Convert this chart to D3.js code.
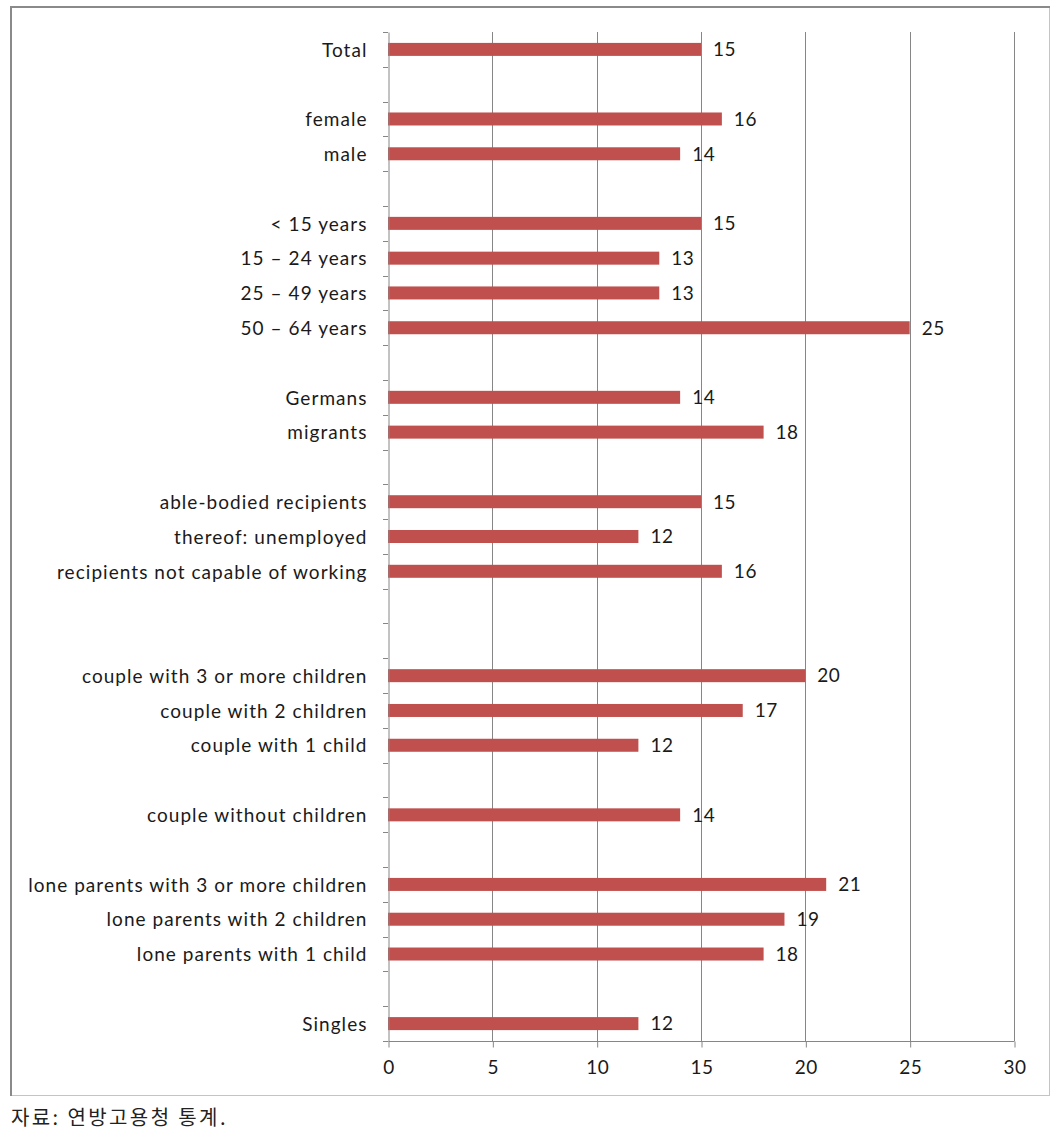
<!DOCTYPE html>
<html>
<head>
<meta charset="utf-8">
<script src="https://cdn.jsdelivr.net/npm/d3@7"></script>
<style>
  body { margin: 0; background: #fff; }
  svg { display: block; }
</style>
</head>
<body>
<svg id="chart" width="1057" height="1136"></svg>
<script>
const categories = [
  "Total", "", "female", "male", "",
  "< 15 years", "15 – 24 years", "25 – 49 years", "50 – 64 years", "",
  "Germans", "migrants", "",
  "able-bodied recipients", "thereof:  unemployed", "recipients not capable of working", "", "",
  "couple with 3 or more children", "couple with 2 children", "couple with 1 child", "",
  "couple without children", "",
  "lone parents with 3 or more children", "lone parents with 2 children", "lone parents with 1 child", "",
  "Singles"
];
const values = [
  15, null, 16, 14, null,
  15, 13, 13, 25, null,
  14, 18, null,
  15, 12, 16, null, null,
  20, 17, 12, null,
  14, null,
  21, 19, 18, null,
  12
];
const xTicks = [0, 5, 10, 15, 20, 25, 30];
const sourceNote = "자료: 연방고용청 통계.";

const svg = d3.select("#chart");
const font = "Lato, 'Open Sans', sans-serif";
const textColor = "#1a1a1a";

// outer frame
svg.append("rect").attr("x", 10.5).attr("y", 6.5).attr("width", 1039).attr("height", 1089)
  .attr("fill", "none").attr("stroke", "#c4c4c4").attr("stroke-width", 1);
svg.append("line").attr("x1", 10).attr("x2", 1050).attr("y1", 7).attr("y2", 7)
  .attr("stroke", "#8a8a8a").attr("stroke-width", 2);
svg.append("line").attr("x1", 11).attr("x2", 11).attr("y1", 6).attr("y2", 1096)
  .attr("stroke", "#8a8a8a").attr("stroke-width", 2);

const pLeft = 388, pRight = 1014, pTop = 32, pBottom = 1041;
const x = d3.scaleLinear().domain([0, 30]).range([pLeft, pRight]);
const idx = categories.map((d, i) => i);
const yb = d3.scaleBand().domain(idx).range([pTop, pBottom]);

// vertical gridlines
svg.append("g").selectAll("line").data(xTicks.filter(t => t > 0)).join("line")
  .attr("x1", d => Math.round(x(d)) + 0.5).attr("x2", d => Math.round(x(d)) + 0.5)
  .attr("y1", pTop).attr("y2", pBottom)
  .attr("stroke", "#868686").attr("stroke-width", 1);

// bars
const rows = idx.filter(i => values[i] != null);
svg.append("g").selectAll("rect").data(rows).join("rect")
  .attr("x", x(0)).attr("y", i => yb(i) + yb.bandwidth() / 2 - 6.5)
  .attr("width", i => x(values[i]) - x(0)).attr("height", 13)
  .attr("fill", "#c0504d");

// value labels
svg.append("g").selectAll("text").data(rows).join("text")
  .attr("x", i => x(values[i]) + 12).attr("y", i => yb(i) + yb.bandwidth() / 2 + 2)
  .attr("dominant-baseline", "middle")
  .attr("font-family", font).attr("font-size", 19).attr("letter-spacing", 0.5).attr("fill", textColor)
  .text(i => values[i]);

// y axis
const yAxis = d3.axisLeft(yb).tickSize(0).tickFormat(i => categories[i]);
const gy = svg.append("g").attr("transform", `translate(${pLeft + 0.5},0)`).call(yAxis);
gy.select(".domain").attr("stroke", "#868686");
gy.selectAll("text").attr("x", -21).attr("font-family", font).attr("font-size", 19)
  .attr("letter-spacing", 1.05).attr("fill", textColor).attr("dy", "0.38em");
// boundary ticks
const bounds = d3.range(categories.length + 1).map(k => pTop + k * yb.step());
svg.append("g").selectAll("line").data(bounds).join("line")
  .attr("x1", pLeft - 5).attr("x2", pLeft).attr("y1", d => Math.round(d) + 0.5).attr("y2", d => Math.round(d) + 0.5)
  .attr("stroke", "#868686");

// x axis
const xAxis = d3.axisBottom(x).tickValues(xTicks).tickSize(6).tickPadding(13);
const gx = svg.append("g").attr("transform", `translate(0.5,${pBottom + 0.5})`).call(xAxis);
gx.select(".domain").attr("stroke", "#868686").attr("d", `M${pLeft},0H${pRight}`);
gx.selectAll(".tick line").attr("stroke", "#868686");
gx.selectAll("text").attr("font-family", font).attr("font-size", 19).attr("letter-spacing", 0.5).attr("fill", textColor);

// source note
svg.append("text").attr("x", 11).attr("y", 1125)
  .attr("font-family", "'Noto Sans CJK KR', sans-serif").attr("font-size", 20)
  .attr("letter-spacing", 2.4).attr("fill", "#222")
  .text(sourceNote);
</script>
</body>
</html>
